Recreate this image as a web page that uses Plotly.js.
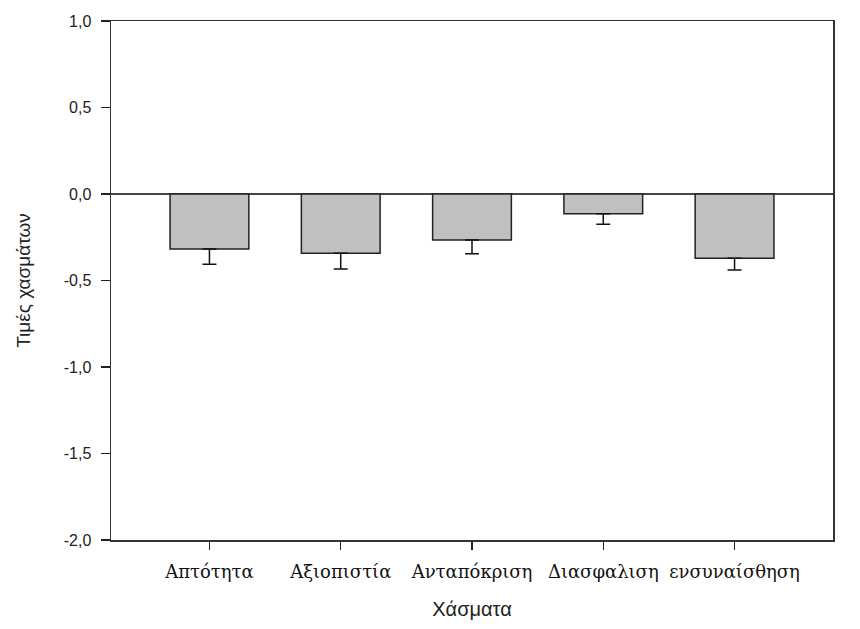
<!DOCTYPE html>
<html>
<head>
<meta charset="utf-8">
<script src="https://cdn.plot.ly/plotly-3.0.1.min.js"></script>
<style>html,body{margin:0;padding:0;background:#fff;}#chart{width:860px;height:629px;}</style>
</head>
<body>
<div id="chart"></div>
<script>
const categories = ["Απτότητα", "Αξιοπιστία", "Ανταπόκριση", "Διασφαλιση", "ενσυναίσθηση"];
const gapValues = [-0.318, -0.343, -0.266, -0.114, -0.372];
const errorMinus = [0.088, 0.090, 0.079, 0.061, 0.067];
const errorPlus = [0, 0, 0, 0, 0];
const yTickValues = [1.0, 0.5, 0.0, -0.5, -1.0, -1.5, -2.0];
const yTickLabels = ["1,0", "0,5", "0,0", "-0,5", "-1,0", "-1,5", "-2,0"];

const trace = {
  type: 'bar',
  x: categories.map((c, i) => i),
  y: gapValues,
  width: 0.6,
  marker: {color: '#c0c0c0', line: {color: '#222222', width: 1.5}},
  error_y: {type: 'data', symmetric: false, array: errorPlus, arrayminus: errorMinus,
            color: '#111111', thickness: 1.5, width: 7},
  hoverinfo: 'none'
};

const layout = {
  width: 860, height: 629,
  margin: {l: 111, r: 27, t: 21, b: 89},
  paper_bgcolor: '#ffffff', plot_bgcolor: '#ffffff',
  showlegend: false,
  xaxis: {
    range: [-0.75, 4.75],
    tickmode: 'array', tickvals: categories.map((c, i) => i), ticktext: categories,
    ticks: 'outside', ticklen: 8, tickwidth: 1.5, tickcolor: '#222',
    showline: true, linecolor: '#333', linewidth: 1.5, mirror: true,
    showgrid: false, zeroline: false,
    tickfont: {family: 'DejaVu Serif', size: 18, color: '#111'},
    ticklabelstandoff: 7,
    title: {text: 'Χάσματα', font: {family: 'Liberation Sans, Arial, sans-serif', size: 20, color: '#222'}, standoff: 21}
  },
  yaxis: {
    range: [-2.0, 1.0],
    tickmode: 'array', tickvals: yTickValues, ticktext: yTickLabels,
    ticks: 'outside', ticklen: 9, tickwidth: 1.5, tickcolor: '#222',
    showline: true, linecolor: '#333', linewidth: 1.5, mirror: true,
    showgrid: false, zeroline: true, zerolinecolor: '#444', zerolinewidth: 1.5,
    tickfont: {family: 'Liberation Sans, Arial, sans-serif', size: 16, color: '#222'},
    ticklabelstandoff: 6,
    title: {text: 'Τιμές χασμάτων', font: {family: 'Liberation Sans, Arial, sans-serif', size: 19, color: '#222'}, standoff: 28}
  }
};

Plotly.newPlot('chart', [trace], layout, {staticPlot: true, displayModeBar: false});
</script>
</body>
</html>
